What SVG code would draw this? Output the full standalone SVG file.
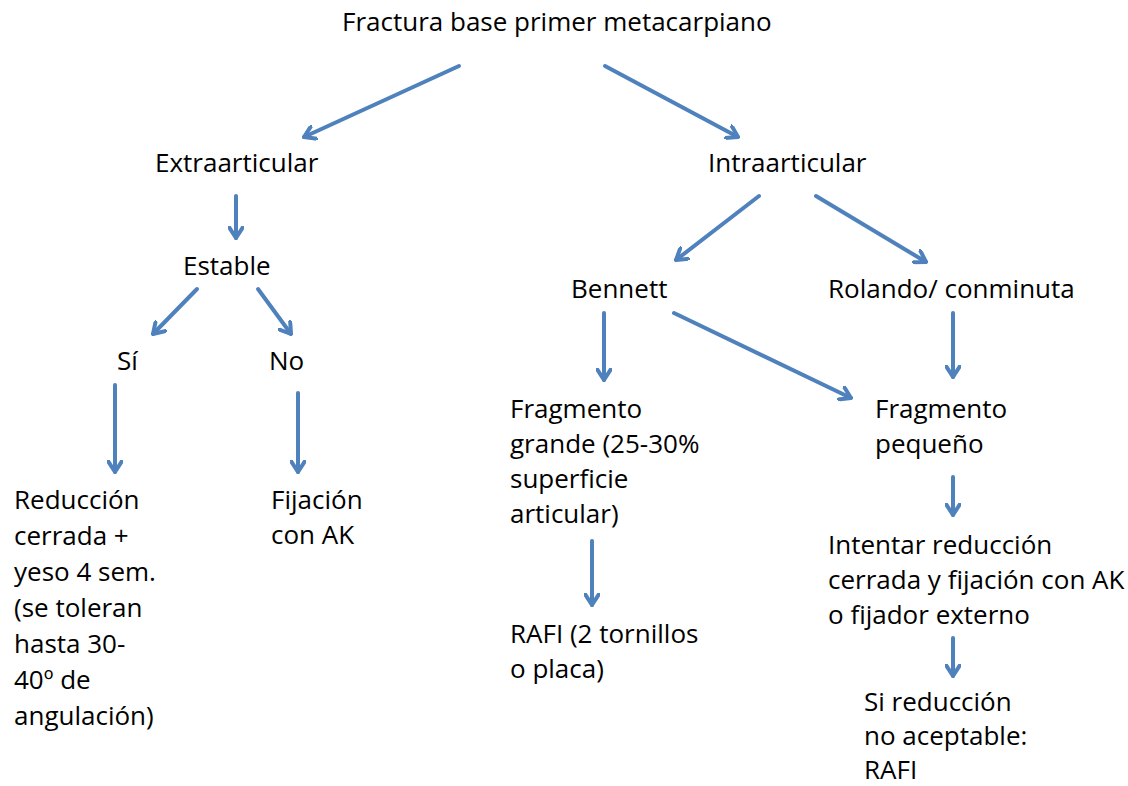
<svg xmlns="http://www.w3.org/2000/svg" width="1128" height="786" viewBox="0 0 1128 786">
<style>
text{font-family:"Open Sans","Liberation Sans",sans-serif;font-size:26px;fill:#000}
.c{fill:none;stroke:#4F81BD;stroke-width:4;stroke-linecap:round}
</style>
<defs>
<marker id="ah" viewBox="-12 -8 14 16" markerWidth="14" markerHeight="16" refX="0" refY="0" orient="auto" markerUnits="userSpaceOnUse">
<polyline points="-11,-7 0,0 -11,7" fill="none" stroke="#4F81BD" stroke-width="4" stroke-linecap="round" stroke-linejoin="round"/>
</marker>
</defs>
<rect width="1128" height="786" fill="#fff"/>
<g id="connectors" class="c" marker-end="url(#ah)">
<line x1="459" y1="66" x2="304" y2="137"/>
<line x1="605" y1="66" x2="738" y2="137"/>
<line x1="236" y1="196" x2="236" y2="238"/>
<line x1="197" y1="289" x2="153" y2="334"/>
<line x1="258" y1="289" x2="291" y2="334"/>
<line x1="115" y1="385" x2="115" y2="472"/>
<line x1="298" y1="393" x2="298" y2="472"/>
<line x1="759" y1="196" x2="676" y2="260"/>
<line x1="816" y1="196" x2="926" y2="262"/>
<line x1="604" y1="313" x2="604" y2="380"/>
<line x1="674" y1="313" x2="851" y2="398"/>
<line x1="953" y1="313" x2="953" y2="377"/>
<line x1="953" y1="477" x2="953" y2="515"/>
<line x1="953" y1="638" x2="953" y2="676"/>
<line x1="592" y1="541" x2="592" y2="605"/>
</g>
<g id="n-root"><text x="342" y="31">Fractura base primer metacarpiano</text></g>
<g id="n-extra"><text x="155" y="172">Extraarticular</text></g>
<g id="n-intra"><text x="708" y="172">Intraarticular</text></g>
<g id="n-estable"><text x="183" y="275">Estable</text></g>
<g id="n-si"><text x="117" y="370">Sí</text></g>
<g id="n-no"><text x="269" y="370">No</text></g>
<g id="n-bennett"><text x="571" y="298">Bennett</text></g>
<g id="n-rolando"><text x="828" y="298">Rolando/ conminuta</text></g>
<g id="n-grande"><text x="510" y="418">Fragmento<tspan x="510" dy="35">grande (25-30%</tspan><tspan x="510" dy="35">superficie</tspan><tspan x="510" dy="35">articular)</tspan></text></g>
<g id="n-pequeno"><text x="875" y="418">Fragmento<tspan x="875" dy="35">pequeño</tspan></text></g>
<g id="n-reduccion"><text x="14" y="509">Reducción<tspan x="14" dy="36">cerrada +</tspan><tspan x="14" dy="36">yeso 4 sem.</tspan><tspan x="14" dy="36">(se toleran</tspan><tspan x="14" dy="36">hasta 30-</tspan><tspan x="14" dy="36">40º de</tspan><tspan x="14" dy="36">angulación)</tspan></text></g>
<g id="n-fijacion"><text x="271" y="509">Fijación<tspan x="271" dy="35">con AK</tspan></text></g>
<g id="n-rafi1"><text x="510" y="643">RAFI (2 tornillos<tspan x="510" dy="35">o placa)</tspan></text></g>
<g id="n-intentar"><text x="828" y="554">Intentar reducción<tspan x="828" dy="35">cerrada y fijación con AK</tspan><tspan x="828" dy="35">o fijador externo</tspan></text></g>
<g id="n-rafi2"><text x="864" y="711">Si reducción<tspan x="864" dy="34">no aceptable:</tspan><tspan x="864" dy="34">RAFI</tspan></text></g>
</svg>
